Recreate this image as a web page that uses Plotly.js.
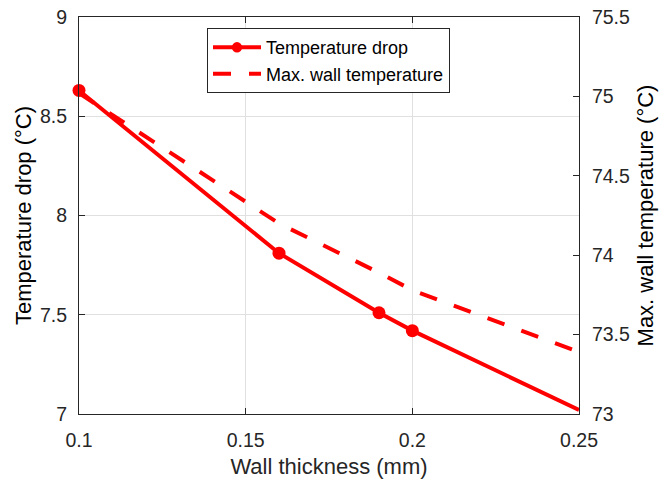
<!DOCTYPE html>
<html><head><meta charset="utf-8">
<script src="https://cdn.plot.ly/plotly-3.0.1.min.js"></script>
<style>body{margin:0;background:#fff}#c{width:664px;height:487px}</style>
</head><body><div id="c"></div>
<script>
const thickness = [0.1, 0.16, 0.19, 0.2, 0.25];
const tempDrop = [8.63, 7.81, 7.51, 7.42, 7.02];
const maxWallTemp = [75.02, 74.2, 73.89, 73.78, 73.39];
const markerSizes = [13, 13, 13, 13, 0];

const F = 'Liberation Sans, Arial, sans-serif';
const traces = [
  {x: thickness, y: tempDrop, name: 'Temperature drop', mode: 'lines+markers',
   line: {color: '#ff0000', width: 4}, marker: {color: '#ff0000', size: markerSizes, opacity: 1, line: {width: 0}}, cliponaxis: false},
  {x: thickness, y: maxWallTemp, name: 'Max. wall temperature', mode: 'lines', yaxis: 'y2',
   line: {color: '#ff0000', width: 4, dash: '18px,18px'}}
];
const axBase = {showline: true, linecolor: '#262626', linewidth: 1, ticks: 'inside', ticklen: 6,
  tickcolor: '#262626', tickfont: {family: F, size: 19.5, color: '#262626'}, zeroline: false};
const layout = {
  width: 664, height: 487, paper_bgcolor: '#fff', plot_bgcolor: '#fff',
  margin: {l: 79, r: 85, t: 17, b: 73},
  showlegend: true,
  legend: {x: 0.256, y: 0.972, xanchor: 'left', yanchor: 'top', bordercolor: '#262626', borderwidth: 1,
    bgcolor: '#fff', font: {family: F, size: 18, color: '#000'}, tracegroupgap: 0, itemwidth: 48},
  xaxis: Object.assign({}, axBase, {range: [0.1, 0.25], tickvals: [0.1, 0.15, 0.2, 0.25],
    ticktext: ['0.1', '0.15', '0.2', '0.25'], mirror: 'ticks', showgrid: true, gridcolor: '#e0e0e0',
    ticklabelstandoff: 9,
    title: {text: 'Wall thickness (mm)', font: {family: F, size: 22, color: '#262626'}, standoff: 8}}),
  yaxis: Object.assign({}, axBase, {range: [7, 9], tickvals: [7, 7.5, 8, 8.5, 9],
    ticktext: ['7', '7.5', '8', '8.5', '9'], showgrid: true, gridcolor: '#e0e0e0',
    ticklabelstandoff: 7,
    title: {text: 'Temperature drop (°C)', font: {family: F, size: 22, color: '#000'}, standoff: 2}}),
  yaxis2: Object.assign({}, axBase, {range: [73, 75.5], overlaying: 'y', side: 'right',
    tickvals: [73, 73.5, 74, 74.5, 75, 75.5], ticktext: ['73', '73.5', '74', '74.5', '75', '75.5'],
    showgrid: false, ticklabelstandoff: 8,
    title: {text: 'Max. wall temperature (°C)', font: {family: F, size: 22, color: '#000'}, standoff: 8}})
};
Plotly.newPlot('c', traces, layout, {displayModeBar: false, staticPlot: true});
</script></body></html>
